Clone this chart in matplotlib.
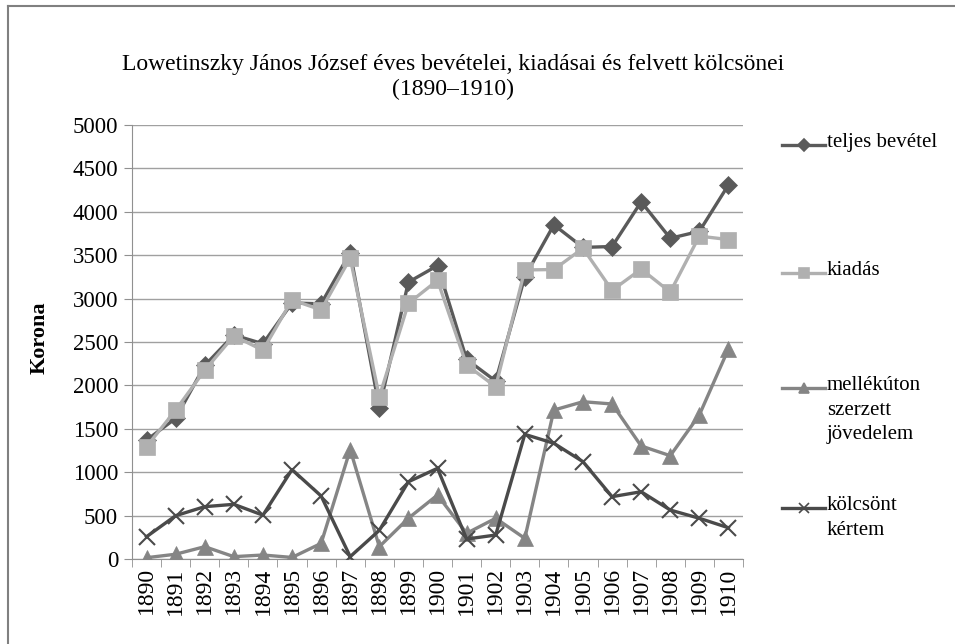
import numpy as np
import matplotlib
matplotlib.use("Agg")
import matplotlib.pyplot as plt
from matplotlib.lines import Line2D

plt.rcParams['font.family'] = ['Liberation Serif', 'DejaVu Serif']

# Adatok
years = [str(y) for y in range(1890, 1911)]
teljes_bevetel = [1370, 1620, 2230, 2580, 2480, 2950, 2940, 3530, 1740, 3190, 3380,
                  2300, 2050, 3250, 3850, 3590, 3600, 4115, 3695, 3775, 4310]
kiadas = [1295, 1715, 2175, 2570, 2405, 2985, 2870, 3465, 1870, 2945, 3210,
          2235, 1985, 3330, 3335, 3580, 3095, 3340, 3075, 3720, 3680]
mellekuton = [15, 55, 142, 27, 46, 18, 180, 1260, 142, 470, 737,
              296, 469, 238, 1716, 1812, 1786, 1302, 1190, 1660, 2420]
kolcsont = [257, 499, 603, 630, 505, 1030, 726, 27, 330, 890, 1045,
            230, 276, 1436, 1333, 1121, 718, 775, 564, 469, 360]

series = [
    ('teljes bevétel', teljes_bevetel, '#5a5a5a', 'D', 9),
    ('kiadás', kiadas, '#b0b0b0', 's', 11),
    ('mellékúton\nszerzett\njövedelem', mellekuton, '#858585', '^', 11),
    ('kölcsönt\nkértem', kolcsont, '#4a4a4a', 'x', 11),
]

fig = plt.figure(figsize=(9.55, 6.44), dpi=100)
ax = fig.add_axes([132 / 955, 1 - 559 / 644, 611 / 955, 434 / 644])

x = np.arange(len(years))
for label, vals, col, mk, ms in series:
    ax.plot(x, vals, color=col, linewidth=2.4, marker=mk, markersize=ms,
            markeredgewidth=1.5 if mk == 'x' else 0.5, markeredgecolor=col,
            markerfacecolor=col, zorder=3)

ax.set_xlim(-0.5, len(years) - 0.5)
ax.set_ylim(0, 5000)
ax.set_yticks(np.arange(0, 5001, 500))
ax.set_xticks(x)
ax.set_xticklabels(years, rotation=90, fontsize=17)
ax.set_xticks(np.arange(-0.5, len(years), 1), minor=True)
ax.tick_params(axis='x', which='major', length=0, pad=6)
ax.tick_params(axis='x', which='minor', length=6, color='#909090')
ax.tick_params(axis='y', length=6, color='#909090', labelsize=16.5, pad=4)
ax.grid(axis='y', color='#a0a0a0', linewidth=1)
ax.set_axisbelow(True)
for s in ['top', 'right']:
    ax.spines[s].set_visible(False)
for s in ['left', 'bottom']:
    ax.spines[s].set_color('#909090')

fig.text(40 / 955, 1 - 338 / 644, 'Korona', rotation=90, fontsize=16,
         fontweight='bold', ha='center', va='center')

fig.text(453 / 955, 1 - 77 / 644,
         'Lowetinszky János József éves bevételei, kiadásai és felvett kölcsönei\n(1890–1910)',
         ha='center', va='center', fontsize=17, linespacing=1.2)

# Jelmagyarázat
legend_y = [145, 273, 388, 508]
for (label, vals, col, mk, ms), ly in zip(series, legend_y):
    yf = 1 - ly / 644
    fig.add_artist(Line2D([782 / 955, 825 / 955], [yf, yf], color=col,
                          linewidth=2.4, transform=fig.transFigure))
    fig.add_artist(Line2D([803.5 / 955], [yf], color=col, marker=mk,
                          markersize=ms * 0.7, markeredgewidth=1.2,
                          transform=fig.transFigure))
    fig.text(827 / 955, yf + 12 / 644, label, ha='left', va='top',
             fontsize=15, linespacing=1.4)

# Keret
fig.add_artist(Line2D([8 / 955, 8 / 955], [0, 1 - 6 / 644], color='#808080',
                      linewidth=1.5, transform=fig.transFigure))
fig.add_artist(Line2D([8 / 955, 1], [1 - 6 / 644, 1 - 6 / 644], color='#808080',
                      linewidth=1.5, transform=fig.transFigure))

fig.savefig('out.png', dpi=100)
